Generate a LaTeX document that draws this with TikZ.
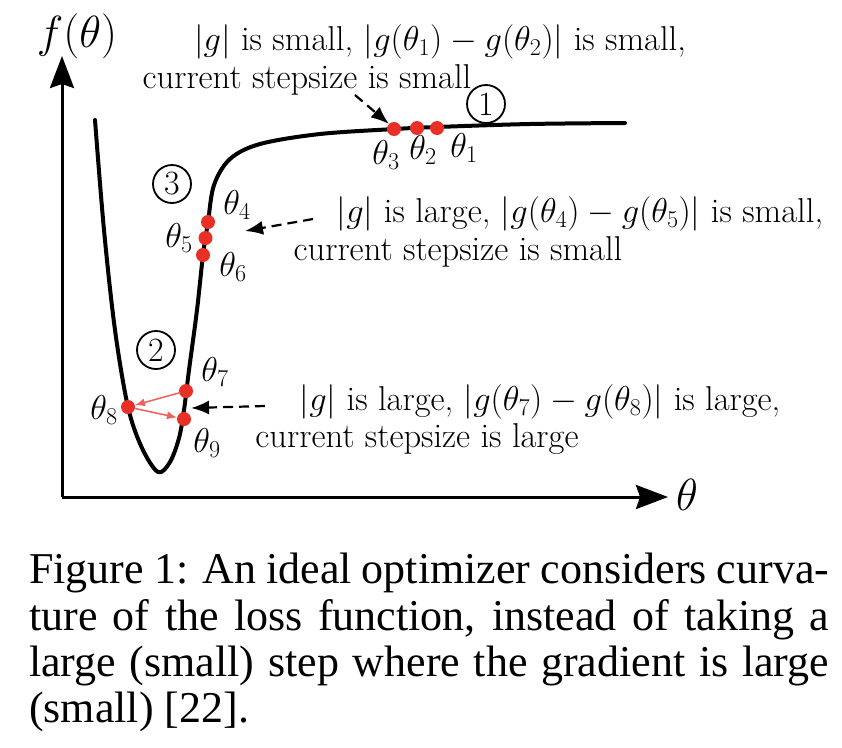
\documentclass[tikz,border=0pt]{standalone}
\usepackage{fix-cm}
\usepackage{fontspec}
\newfontfamily\capfont{Liberation Serif}
\usetikzlibrary{arrows.meta}
\definecolor{dotred}{RGB}{232,48,38}
\definecolor{arrred}{RGB}{240,95,90}
\begin{document}
\begin{tikzpicture}[x=1pt,y=-1pt,
  lab/.style={font=\fontsize{34.5}{40}\selectfont, inner sep=0pt},
  big/.style={font=\fontsize{45}{50}\selectfont, inner sep=0pt},
  dot/.style={circle, fill=dotred, inner sep=0pt, minimum size=14pt},
  axisline/.style={line width=3pt, -{Stealth[length=32pt,width=24pt,inset=4pt]}},
  dasharrow/.style={line width=2.2pt, dash pattern=on 10pt off 6pt, -{Latex[length=18pt,width=14pt]}},
  redarrow/.style={draw=arrred, line width=1.5pt, -{Latex[length=10pt,width=8pt]}},
  circnum/.style={circle, draw, line width=1.8pt, minimum size=38pt, inner sep=0pt, font=\fontsize{34}{40}\selectfont},
  capline/.style={font=\capfont\fontsize{44}{44}\selectfont, inner sep=0pt, anchor=base west}
]
\path[use as bounding box, fill=white] (0,0) rectangle (842,747);

% axes
\coordinate (O) at (62,497);
\coordinate (ytip) at (62,56);
\coordinate (xtip) at (668,497);
\draw[axisline] (O) -- (ytip);
\draw[axisline] (O) -- (xtip);
\node[big] (fl) at (77,36) {$f(\theta)$};
\node[big] (tl) at (687,495) {$\theta$};

% curve
\draw[line width=4pt, line join=round, line cap=round] plot[smooth, tension=0.55] coordinates {
 (95,120) (104,230) (115,330) (128,407) (142,448) (158,472) (170,462) (179,438)
 (184,410) (189,370) (197,310) (203,255) (208,222) (214,185) (230,159) (260,144)
 (320,134) (395,129) (437,127) (530,124) (625,123)};

% dots
\node[dot] (d1) at (437,128) {};
\node[dot] (d2) at (417,128) {};
\node[dot] (d3) at (394,129) {};
\node[dot] (d4) at (208,222) {};
\node[dot] (d5) at (205.5,238) {};
\node[dot] (d6) at (203,255) {};
\node[dot] (d7) at (186,391) {};
\node[dot] (d8) at (128,407) {};
\node[dot] (d9) at (184,419) {};

% theta labels
\node[lab] (l1) at (464,148) {$\theta_1$};
\node[lab] (l2) at (423,150) {$\theta_2$};
\node[lab] (l3) at (386,155) {$\theta_3$};
\node[lab] (l4) at (237,205) {$\theta_4$};
\node[lab] (l5) at (179,238) {$\theta_5$};
\node[lab] (l6) at (233,267) {$\theta_6$};
\node[lab] (l7) at (215,372) {$\theta_7$};
\node[lab] (l8) at (104,410) {$\theta_8$};
\node[lab] (l9) at (207,443) {$\theta_9$};

% circled numbers
\node[circnum] (c1) at (486,104) {1};
\node[circnum] (c3) at (172,184) {3};
\node[circnum] (c2) at (156,350) {2};

% annotations
\node[lab] (t1a) at (440,42) {$|g|$ is small, $|g(\theta_1) - g(\theta_2)|$ is small,};
\node[lab] (t1b) at (307,80) {current stepsize is small};
\node[lab] (t2a) at (580,214) {$|g|$ is large, $|g(\theta_4) - g(\theta_5)|$ is small,};
\node[lab] (t2b) at (458,252) {current stepsize is small};
\node[lab] (t3a) at (540,402) {$|g|$ is large, $|g(\theta_7) - g(\theta_8)|$ is large,};
\node[lab] (t3b) at (417,439) {current stepsize is large};

% dashed arrows
\coordinate (a1) at (355,95);
\draw[dasharrow] (a1) -- (d3.north west);
\coordinate (a2s) at (313,219);
\coordinate (a2e) at (245,231);
\draw[dasharrow] (a2s) -- (a2e);
\coordinate (a3s) at (265,406);
\coordinate (a3e) at (191,408);
\draw[dasharrow] (a3s) -- (a3e);

% red step arrows
\draw[redarrow] (d7) -- (d8);
\draw[redarrow] (d8) -- (d9);

% caption
\node[capline] (cap1) at (29,583) {\makebox[800pt][s]{Figure 1: An ideal optimizer considers curva-}};
\node[capline] (cap2) at (29,630) {\makebox[800pt][s]{ture of the loss function, instead of taking a}};
\node[capline] (cap3) at (29,676) {\makebox[800pt][s]{large (small) step where the gradient is large}};
\node[capline] (cap4) at (29,722) {(small) [22].};
\end{tikzpicture}
\end{document}
